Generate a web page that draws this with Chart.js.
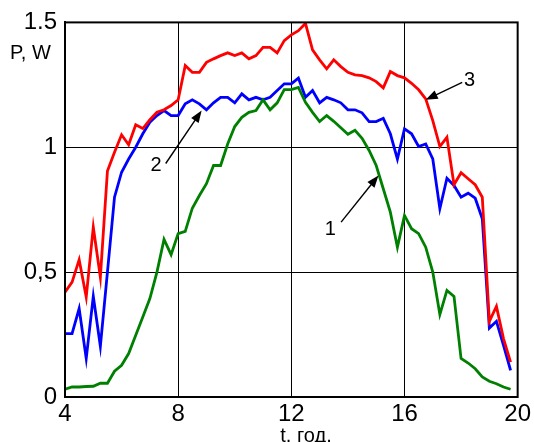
<!DOCTYPE html>
<html>
<head>
<meta charset="utf-8">
<script src="https://cdn.jsdelivr.net/npm/chart.js@4/dist/chart.umd.min.js"></script>
<style>
  html, body { margin: 0; padding: 0; background: #fff; }
  #wrap { width: 534px; height: 442px; }
</style>
</head>
<body>
<div id="wrap"><canvas id="powerChart" width="534" height="442"></canvas></div>
<script>
// time of day, hours
const hours = [
  4, 4.25, 4.5, 4.75, 5, 5.25, 5.5, 5.75, 6, 6.25, 6.5, 6.75, 7, 7.25, 7.5, 7.75,
  8, 8.25, 8.5, 8.75, 9, 9.25, 9.5, 9.75, 10, 10.25, 10.5, 10.75, 11, 11.25, 11.5, 11.75,
  12, 12.25, 12.5, 12.75, 13, 13.25, 13.5, 13.75, 14, 14.25, 14.5, 14.75, 15, 15.25, 15.5, 15.75,
  16, 16.25, 16.5, 16.75, 17, 17.25, 17.5, 17.75, 18, 18.25, 18.5, 18.75, 19, 19.25, 19.5, 19.75
];

// curve 1 (green)
const power1 = [
  0.031, 0.04, 0.04, 0.042, 0.043, 0.055, 0.055, 0.103, 0.127, 0.174, 0.247, 0.32, 0.394, 0.5, 0.631, 0.57,
  0.654, 0.663, 0.756, 0.807, 0.854, 0.927, 0.927, 1.013, 1.083, 1.12, 1.14, 1.147, 1.19, 1.15, 1.178, 1.231,
  1.231, 1.24, 1.18, 1.14, 1.103, 1.127, 1.104, 1.078, 1.052, 1.068, 1.036, 0.987, 0.927, 0.834, 0.74, 0.6,
  0.727, 0.674, 0.654, 0.6, 0.5, 0.33, 0.427, 0.403, 0.154, 0.136, 0.113, 0.08, 0.063, 0.053, 0.04, 0.031
];

// curve 2 (blue)
const power2 = [
  0.254, 0.254, 0.354, 0.154, 0.403, 0.203, 0.5, 0.8, 0.9, 0.953, 1.0, 1.054, 1.1, 1.127, 1.147, 1.127,
  1.127, 1.174, 1.19, 1.174, 1.15, 1.178, 1.2, 1.2, 1.178, 1.214, 1.19, 1.2, 1.19, 1.2, 1.227, 1.254,
  1.254, 1.277, 1.2, 1.227, 1.178, 1.2, 1.19, 1.178, 1.15, 1.15, 1.138, 1.103, 1.103, 1.116, 1.054, 0.953,
  1.074, 1.054, 1.003, 1.013, 0.953, 0.754, 0.876, 0.847, 0.8, 0.816, 0.796, 0.714, 0.276, 0.303, 0.207, 0.107
];

// curve 3 (red)
const power3 = [
  0.42, 0.46, 0.55, 0.4, 0.68, 0.48, 0.905, 0.98, 1.05, 1.01, 1.09, 1.075, 1.11, 1.14, 1.15, 1.167,
  1.19, 1.327, 1.3, 1.3, 1.34, 1.354, 1.367, 1.378, 1.367, 1.378, 1.354, 1.367, 1.4, 1.4, 1.378, 1.427,
  1.45, 1.467, 1.496, 1.39, 1.35, 1.314, 1.35, 1.323, 1.3, 1.29, 1.287, 1.278, 1.263, 1.238, 1.303, 1.287,
  1.278, 1.256, 1.23, 1.194, 1.107, 1.003, 1.04, 0.85, 0.898, 0.874, 0.85, 0.8, 0.303, 0.363, 0.234, 0.14
];

const yTickLabels = { 0: "0", 0.5: "0,5", 1: "1", 1.5: "1.5" };

// curve labels with arrows: [label, textX, textY, fromX, fromY, toX, toY] in data units
const curveLabels = [
  ["1", 13.38, 0.67, 13.76, 0.70, 15.08, 0.887],
  ["2", 7.22, 0.927, 7.56, 0.935, 8.83, 1.147],
  ["3", 18.3, 1.267, 18.04, 1.26, 16.75, 1.19]
];

const FONT = "'Liberation Sans', Arial, sans-serif";

const toPoints = (ys) => ys.map((y, i) => ({ x: hours[i], y: y }));

const makeSet = (label, ys, color) => ({
  label: label,
  data: toPoints(ys),
  borderColor: color,
  backgroundColor: color,
  borderWidth: 2.8,
  pointRadius: 0,
  tension: 0,
  fill: false
});

// draws axis names, frame and the numbered arrows
const extrasPlugin = {
  id: "extras",
  afterDraw(chart) {
    const ctx = chart.ctx;
    const xs = chart.scales.x;
    const ys = chart.scales.y;
    const area = chart.chartArea;
    ctx.save();

    ctx.strokeStyle = "#000";
    ctx.lineWidth = 2;
    ctx.strokeRect(area.left, area.top, area.right - area.left, area.bottom - area.top);

    ctx.fillStyle = "#000";
    ctx.font = "20px " + FONT;
    ctx.textAlign = "left";
    ctx.textBaseline = "middle";
    ctx.fillText("P, W", 10, 53);
    ctx.textAlign = "center";
    ctx.fillText("t, год.", 306, 436);

    ctx.font = "20px " + FONT;
    curveLabels.forEach(([txt, tx, ty, fx, fy, hx, hy]) => {
      ctx.fillText(txt, xs.getPixelForValue(tx), ys.getPixelForValue(ty));
      const x1 = xs.getPixelForValue(fx), y1 = ys.getPixelForValue(fy);
      const x2 = xs.getPixelForValue(hx), y2 = ys.getPixelForValue(hy);
      const ang = Math.atan2(y2 - y1, x2 - x1);
      ctx.lineWidth = 1.4;
      ctx.beginPath();
      ctx.moveTo(x1, y1);
      ctx.lineTo(x2 - 8 * Math.cos(ang), y2 - 8 * Math.sin(ang));
      ctx.stroke();
      ctx.beginPath();
      ctx.moveTo(x2, y2);
      ctx.lineTo(x2 - 12 * Math.cos(ang) + 4.5 * Math.sin(ang), y2 - 12 * Math.sin(ang) - 4.5 * Math.cos(ang));
      ctx.lineTo(x2 - 12 * Math.cos(ang) - 4.5 * Math.sin(ang), y2 - 12 * Math.sin(ang) + 4.5 * Math.cos(ang));
      ctx.closePath();
      ctx.fill();
    });
    ctx.restore();
  }
};

new Chart(document.getElementById("powerChart"), {
  type: "line",
  data: {
    datasets: [
      makeSet("3", power3, "#ff0000"),
      makeSet("1", power1, "#008000"),
      makeSet("2", power2, "#0000ff")
    ]
  },
  options: {
    responsive: false,
    animation: false,
    layout: { padding: { top: 22, right: 15, left: 0, bottom: 0 } },
    plugins: {
      legend: { display: false },
      tooltip: { enabled: false }
    },
    scales: {
      x: {
        type: "linear",
        min: 4,
        max: 20,
        afterFit: (scale) => { scale.height = 45; },
        grid: { color: "#000", lineWidth: 1, drawTicks: false },
        border: { color: "#000", width: 2 },
        ticks: {
          stepSize: 4,
          padding: 3,
          color: "#000",
          font: { family: FONT, size: 24 },
          maxRotation: 0
        }
      },
      y: {
        min: 0,
        max: 1.5,
        afterFit: (scale) => { scale.width = 65; },
        grid: { color: "#000", lineWidth: 1, drawTicks: false },
        border: { color: "#000", width: 2 },
        ticks: {
          stepSize: 0.5,
          padding: 8,
          color: "#000",
          font: { family: FONT, size: 24 },
          callback: (v) => yTickLabels[v]
        }
      }
    }
  },
  plugins: [extrasPlugin]
});
</script>
</body>
</html>
